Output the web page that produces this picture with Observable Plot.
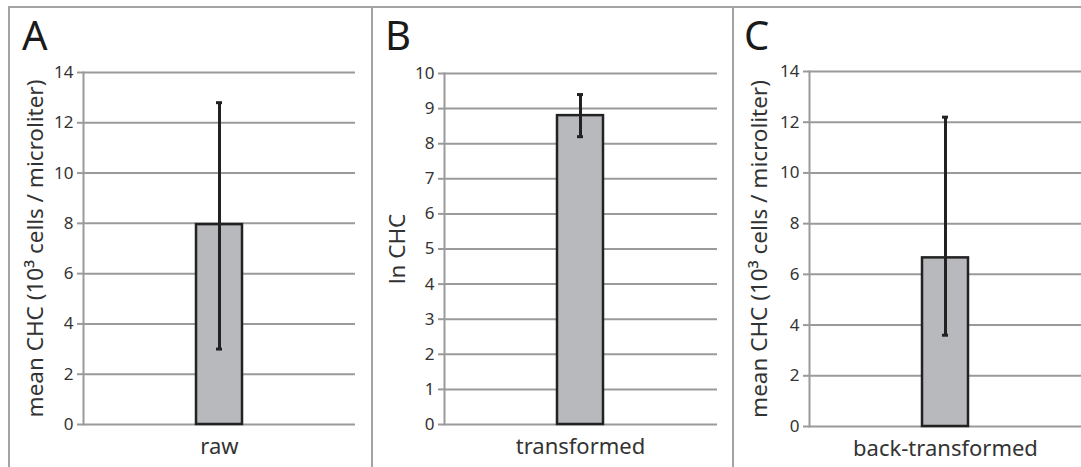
<!DOCTYPE html>
<html>
<head>
<meta charset="utf-8">
<script src="https://cdn.jsdelivr.net/npm/d3@7"></script>
<script src="https://cdn.jsdelivr.net/npm/@observablehq/plot@0.6"></script>
<style>
  html, body { margin: 0; padding: 0; background: #fff; }
  #root { position: relative; width: 1081px; height: 467px; overflow: hidden; font-family: "Noto Sans", "Open Sans", sans-serif; }
  .panel { position: absolute; top: 0; }
  .letter { position: absolute; top: 15px; font-size: 40px; line-height: 1; color: #1a1a1a; font-family: "Noto Sans", sans-serif; }
  .hline { position: absolute; background: #a3a3a3; }
</style>
</head>
<body>
<div id="root"></div>
<script>
// ---- data ----
const categories = ["raw", "transformed", "back-transformed"];
const panelLetters = ["A", "B", "C"];
const means = [7.95, 8.8, 6.65];
const errLow = [3.0, 8.2, 3.6];
const errHigh = [12.8, 9.4, 12.2];
const yLabels = ["mean CHC (10³ cells / microliter)", "ln CHC", "mean CHC (10³ cells / microliter)"];
const yTicksA = [0, 2, 4, 6, 8, 10, 12, 14];
const yTicksB = [0, 1, 2, 3, 4, 5, 6, 7, 8, 9, 10];
const yTicksC = [0, 2, 4, 6, 8, 10, 12, 14];
const yTicks = [yTicksA, yTicksB, yTicksC];

// ---- layout ----
const layout = [
  {left: 0,   width: 370, mL: 83, mR: 15, mT: 72, mB: 43, labelDx: -48, letterX: 22},
  {left: 372, width: 361, mL: 72, mR: 16, mT: 73, mB: 43, labelDx: -47, letterX: 385},
  {left: 733, width: 348, mL: 76, mR: 0,  mT: 71, mB: 41, labelDx: -50, letterX: 744}
];

const root = document.getElementById("root");
const gridColor = "#9a9a9a";
const ink = "#222";

categories.forEach((cat, i) => {
  const L = layout[i];
  const row = [{cat, mean: means[i], lo: errLow[i], hi: errHigh[i]}];
  const ticks = yTicks[i];
  const chart = Plot.plot({
    width: L.width,
    height: 467,
    marginLeft: L.mL,
    marginRight: L.mR,
    marginTop: L.mT,
    marginBottom: L.mB,
    style: {fontFamily: "'Noto Sans', 'Open Sans', sans-serif", fontSize: "17px", color: "#333", background: "transparent", overflow: "visible"},
    x: {domain: [cat], padding: 0.71, label: null},
    y: {domain: [0, ticks[ticks.length - 1]], ticks: ticks, label: null},
    marks: [
      Plot.gridY(ticks, {stroke: gridColor, strokeOpacity: 1, strokeWidth: 2}),
      Plot.frame({anchor: "left", stroke: gridColor, strokeWidth: 2}),
      Plot.axisY(ticks, {tickSize: 6, tickPadding: 4, stroke: gridColor, strokeWidth: 2, fill: "#333", tickFormat: d => String(d)}),
      Plot.axisX({tickSize: 0, tickPadding: 14, fontSize: 22, fill: "#333"}),
      Plot.barY(row, {x: "cat", y: "mean", fill: "#b8b9bd", stroke: ink, strokeWidth: 2.5}),
      Plot.ruleX(row, {x: "cat", y1: "lo", y2: "hi", stroke: ink, strokeWidth: 3}),
      Plot.tickY(row, {x: "cat", y: "lo", stroke: ink, strokeWidth: 3, insetLeft: 20, insetRight: 20}),
      Plot.tickY(row, {x: "cat", y: "hi", stroke: ink, strokeWidth: 3, insetLeft: 20, insetRight: 20}),
      Plot.text([yLabels[i]], {text: d => d, frameAnchor: "left", rotate: -90, dx: L.labelDx, fontSize: 22.5, fill: "#333", textAnchor: "middle", lineAnchor: "middle"})
    ]
  });
  const wrap = document.createElement("div");
  wrap.className = "panel";
  wrap.style.left = L.left + "px";
  wrap.appendChild(chart);
  root.appendChild(wrap);

  const letter = document.createElement("div");
  letter.className = "letter";
  letter.style.left = L.letterX + "px";
  letter.textContent = panelLetters[i];
  root.appendChild(letter);
});

// panel borders
function line(x, y, w, h) {
  const d = document.createElement("div");
  d.className = "hline";
  Object.assign(d.style, {left: x + "px", top: y + "px", width: w + "px", height: h + "px"});
  root.appendChild(d);
}
line(8, 6, 1073, 2);
line(8, 6, 2, 461);
line(371, 6, 2, 461);
line(732, 6, 2, 461);
</script>
</body>
</html>
